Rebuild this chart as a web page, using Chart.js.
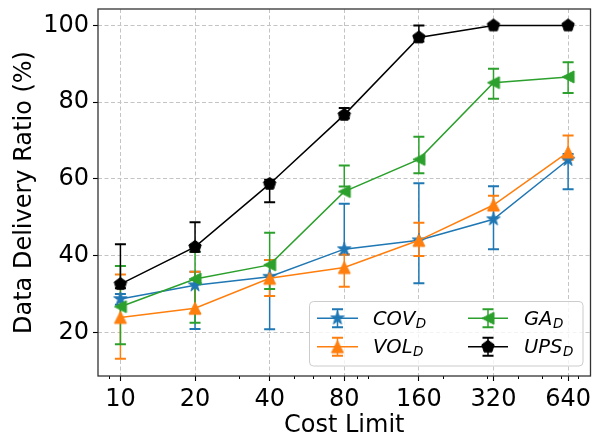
<!DOCTYPE html>
<html>
<head>
<meta charset="utf-8">
<script src="https://cdn.jsdelivr.net/npm/chart.js@4.4.0/dist/chart.umd.min.js"></script>
<style>
  html, body { margin: 0; padding: 0; background: #fff; }
  #wrap { width: 599px; height: 439px; }
</style>
</head>
<body>
<div id="wrap"><canvas id="myChart" width="599" height="439"></canvas></div>
<script>
const costLimits = [10, 20, 40, 80, 160, 320, 640];
const minorTicks = [9, 30, 50, 60, 70, 90, 100, 200, 300, 400, 500, 600, 700];
const yTicks = [20, 40, 60, 80, 100];

// mean value with lower / upper error bounds for each method
const covMean = [28.7, 32.3, 34.5, 41.7, 44.0, 49.5, 65.0];
const covLow  = [27.2, 20.9, 20.8, 40.3, 32.8, 41.7, 57.3];
const covHigh = [30.0, 35.8, 38.9, 53.5, 58.9, 58.1, 66.5];

const volMean = [23.9, 26.3, 34.1, 36.9, 44.0, 53.2, 67.0];
const volLow  = [13.1, 25.0, 29.5, 31.9, 39.9, 52.0, 65.0];
const volHigh = [35.1, 35.8, 38.9, 40.3, 48.6, 55.6, 71.3];

const gaMean = [26.7, 33.9, 37.6, 56.7, 65.1, 85.1, 86.6];
const gaLow  = [16.9, 22.5, 31.3, 58.0, 61.5, 80.9, 82.4];
const gaHigh = [37.3, 41.0, 46.0, 63.5, 71.0, 88.7, 90.4];

const upsMean = [32.6, 42.3, 58.7, 76.7, 96.9, 100, 100];
const upsLow  = [31.5, 41.0, 53.9, 75.8, 95.8, 100, 100];
const upsHigh = [43.0, 48.7, 59.8, 78.5, 100, 100, 100];

const FONT = '"DejaVu Sans", sans-serif';

function marker(color, path) {
  const c = document.createElement('canvas');
  c.width = 16; c.height = 16;
  const g = c.getContext('2d');
  g.translate(8, 8);
  g.beginPath();
  path(g);
  g.closePath();
  g.fillStyle = color;
  g.fill();
  g.strokeStyle = color;
  g.lineWidth = 1;
  g.stroke();
  return c;
}

function polygon(g, n, r, inner) {
  const pts = inner ? n * 2 : n;
  for (let i = 0; i < pts; i++) {
    const a = -Math.PI / 2 + i * Math.PI * 2 / pts;
    const rr = inner && i % 2 ? r * inner : r;
    const px = Math.cos(a) * rr, py = Math.sin(a) * rr;
    if (i === 0) g.moveTo(px, py); else g.lineTo(px, py);
  }
}

const starMark = marker('#1f77b4', g => polygon(g, 5, 7, 0.382));
const triUpMark = marker('#ff7f0e', g => { g.moveTo(0, -6); g.lineTo(-6, 6); g.lineTo(6, 6); });
const triLeftMark = marker('#2ca02c', g => { g.moveTo(-6, 0); g.lineTo(6, -6); g.lineTo(6, 6); });
const pentMark = marker('#000000', g => polygon(g, 5, 6.5));

const series = [
  { name: 'COV', color: '#1f77b4', mark: starMark, mean: covMean, low: covLow, high: covHigh },
  { name: 'VOL', color: '#ff7f0e', mark: triUpMark, mean: volMean, low: volLow, high: volHigh },
  { name: 'GA', color: '#2ca02c', mark: triLeftMark, mean: gaMean, low: gaLow, high: gaHigh },
  { name: 'UPS', color: '#000000', mark: pentMark, mean: upsMean, low: upsLow, high: upsHigh }
];

function errorBar(ctx, x, yLow, yHigh, color) {
  ctx.strokeStyle = color;
  ctx.lineWidth = 1.5;
  ctx.beginPath();
  ctx.moveTo(x, yLow);
  ctx.lineTo(x, yHigh);
  ctx.stroke();
  ctx.lineWidth = 2;
  ctx.beginPath();
  ctx.moveTo(x - 5.5, yLow); ctx.lineTo(x + 5.5, yLow);
  ctx.moveTo(x - 5.5, yHigh); ctx.lineTo(x + 5.5, yHigh);
  ctx.stroke();
}

// all error bars go underneath the lines and markers
const errorBars = {
  id: 'errorBars',
  beforeDatasetsDraw(chart) {
    const { ctx, scales: { x, y } } = chart;
    ctx.save();
    series.forEach(s => {
      costLimits.forEach((c, i) => {
        errorBar(ctx, x.getPixelForValue(c), y.getPixelForValue(s.low[i]), y.getPixelForValue(s.high[i]), s.color);
      });
    });
    ctx.restore();
  }
};

const frameAndLegend = {
  id: 'frameAndLegend',
  afterDatasetsDraw(chart) {
    const { ctx, chartArea: a, scales: { x } } = chart;
    ctx.save();
    // minor ticks of the log axis
    ctx.strokeStyle = '#000';
    ctx.lineWidth = 1;
    ctx.beginPath();
    minorTicks.forEach(v => {
      const px = Math.round(x.getPixelForValue(v)) + 0.5;
      ctx.moveTo(px, a.bottom);
      ctx.lineTo(px, a.bottom + 3);
    });
    ctx.stroke();

    ctx.strokeStyle = '#333';
    ctx.lineWidth = 1.3;
    ctx.strokeRect(a.left, a.top, a.right - a.left, a.bottom - a.top);

    // legend box
    const bx = 309.5, by = 301.5, bw = 273.5, bh = 64.5;
    ctx.beginPath();
    ctx.roundRect(bx, by, bw, bh, 4);
    ctx.fillStyle = 'rgba(255,255,255,0.8)';
    ctx.fill();
    ctx.strokeStyle = '#cccccc';
    ctx.lineWidth = 1;
    ctx.stroke();

    const cols = [{ x0: 317, x1: 358, tx: 373 }, { x0: 468, x1: 508, tx: 524 }];
    const rows = [318.3, 346.7];
    series.forEach((s, k) => {
      const col = cols[Math.floor(k / 2)], cy = rows[k % 2];
      const mx = (col.x0 + col.x1) / 2;
      ctx.strokeStyle = s.color;
      ctx.lineWidth = 1.5;
      ctx.beginPath();
      ctx.moveTo(col.x0, cy);
      ctx.lineTo(col.x1, cy);
      ctx.stroke();
      errorBar(ctx, mx, cy + 9, cy - 9, s.color);
      ctx.drawImage(s.mark, mx - 8, cy - 8);

      ctx.fillStyle = '#000';
      ctx.textBaseline = 'alphabetic';
      ctx.textAlign = 'left';
      ctx.font = 'italic 19.5px ' + FONT;
      ctx.fillText(s.name, col.tx, cy + 6.7);
      const w = ctx.measureText(s.name).width;
      ctx.font = 'italic 13.5px ' + FONT;
      ctx.fillText('D', col.tx + w + 0.5, cy + 9.5);
    });
    ctx.restore();
  }
};

const datasets = series.map((s, k) => ({
  label: s.name,
  data: costLimits.map((c, i) => ({ x: c, y: s.mean[i] })),
  borderColor: s.color,
  backgroundColor: s.color,
  borderWidth: 1.5,
  pointStyle: s.mark,
  pointRadius: 7,
  tension: 0,
  order: series.length - 1 - k
}));

new Chart(document.getElementById('myChart'), {
  type: 'line',
  data: { datasets },
  options: {
    responsive: false,
    animation: false,
    layout: { padding: { top: 9, right: 7, left: 0, bottom: 0 } },
    plugins: { legend: { display: false }, tooltip: { enabled: false } },
    scales: {
      x: {
        type: 'logarithmic',
        min: 8.12,
        max: 788,
        afterBuildTicks: s => { s.ticks = costLimits.map(v => ({ value: v })); },
        afterFit: s => { s.height = 63; s.paddingLeft = 0; s.paddingRight = 0; },
        ticks: {
          callback: v => String(v),
          autoSkip: false,
          maxRotation: 0,
          padding: 4.5,
          color: '#000',
          font: { family: FONT, size: 24 }
        },
        grid: { color: '#c4c4c4', lineWidth: 1, tickColor: '#000', tickLength: 5, tickWidth: 1.1 },
        border: { display: false, dash: [4, 2.5] },
        title: {
          display: true,
          text: 'Cost Limit',
          color: '#000',
          font: { family: FONT, size: 24 },
          padding: { top: 0, bottom: -1 }
        }
      },
      y: {
        min: 8.63,
        max: 104.3,
        afterBuildTicks: s => { s.ticks = yTicks.map(v => ({ value: v })); },
        afterFit: s => { s.width = 98; s.paddingTop = 0; s.paddingBottom = 0; },
        ticks: {
          padding: 4,
          color: '#000',
          font: { family: FONT, size: 24 }
        },
        grid: { color: '#c4c4c4', lineWidth: 1, tickColor: '#000', tickLength: 5, tickWidth: 1.1 },
        border: { display: false, dash: [4, 2.5] },
        title: {
          display: true,
          text: 'Data Delivery Ratio (%)',
          color: '#000',
          font: { family: FONT, size: 24 },
          padding: { top: 10.5, bottom: 0 }
        }
      }
    }
  },
  plugins: [errorBars, frameAndLegend]
});
</script>
</body>
</html>
